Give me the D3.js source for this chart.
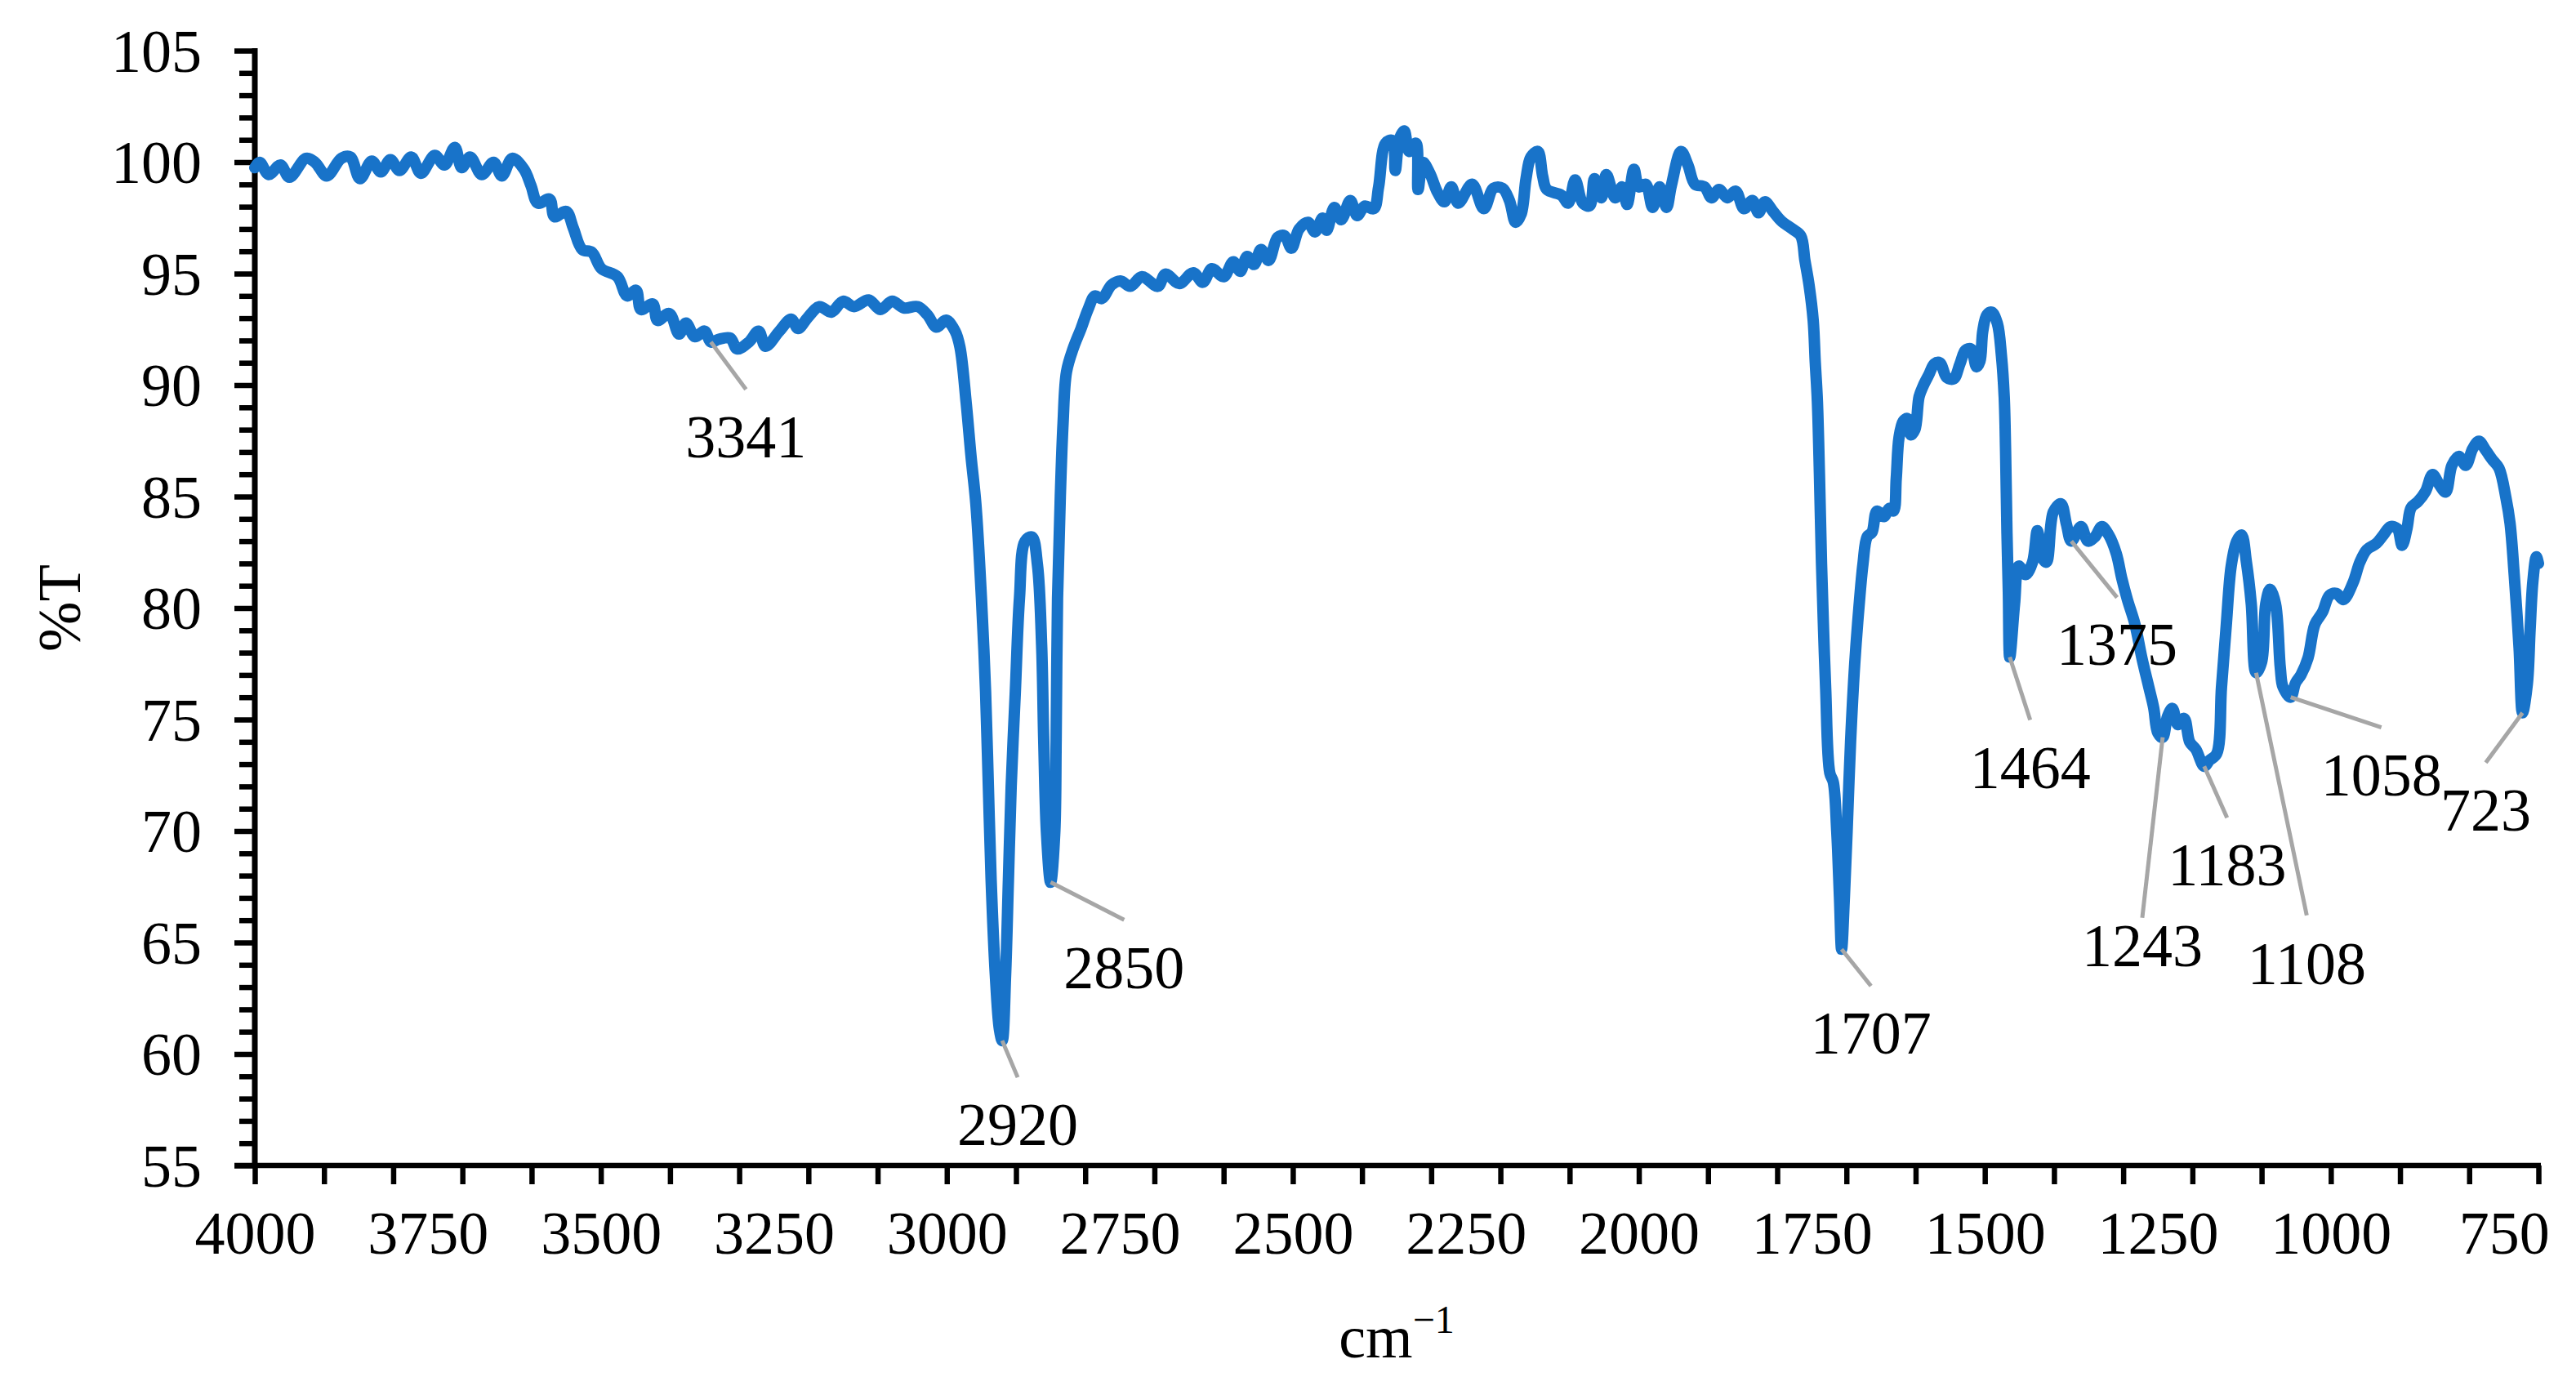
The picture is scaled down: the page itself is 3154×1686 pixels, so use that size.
<!DOCTYPE html>
<html>
<head>
<meta charset="utf-8">
<script src="https://cdn.jsdelivr.net/npm/d3@7"></script>
<style>
  html, body { margin: 0; padding: 0; background: #ffffff; }
  svg { display: block; }
</style>
</head>
<body>
<div id="chart"></div>
<script>
// ---------------- data ----------------
const wavenumber = [
  4000,3993,3980,3963,3950,3926,3913,3896,3875,3862,3848,3831,3818,3804,3791,3774,3760,3740,3726,3711,
  3701,3689,3672,3655,3643,3628,3611,3601,3591,3574,3567,3550,3540,3527,3513,3499,3476,3462,3449,3442,
  3425,3418,3401,3387,3377,3364,3350,3341,3330,3313,3303,3286,3272,3262,3242,3225,3215,3201,3184,3167,
  3150,3134,3113,3096,3079,3062,3042,3028,3015,3001,2988,2981,2972,2965,2958,2950,2944,2940,2936,2930,
  2924,2920,2915,2911,2907,2901,2895,2887,2877,2869,2863,2860,2856,2850,2844,2842,2840,2836,2832,2827,
  2817,2806,2796,2786,2776,2762,2749,2735,2718,2695,2684,2664,2644,2630,2617,2600,2586,2576,2566,2556,
  2546,2535,2522,2512,2502,2491,2478,2468,2457,2451,2440,2430,2417,2407,2396,2383,2376,2366,2356,2352,
  2346,2339,2332,2322,2319,2312,2302,2291,2281,2271,2261,2241,2224,2210,2197,2187,2178,2170,2163,2156,
  2146,2139,2133,2112,2102,2092,2081,2071,2064,2054,2047,2034,2024,2017,2007,2000,1990,1980,1970,1960,
  1953,1939,1929,1919,1905,1895,1884,1872,1860,1848,1836,1827,1818,1806,1794,1778,1766,1760,1754,1748,
  1745,1742,1739,1736,1733,1730,1724,1719,1714,1710,1707,1703,1699,1694,1688,1682,1676,1670,1663,1656,
  1646,1638,1632,1628,1624,1618,1612,1607,1601,1595,1589,1581,1573,1565,1555,1545,1536,1528,1520,1512,
  1507,1503,1497,1490,1482,1476,1472,1470,1468,1466,1464,1457,1451,1441,1431,1424,1417,1411,1401,1390,
  1382,1375,1361,1351,1341,1331,1321,1310,1302,1294,1283,1273,1263,1256,1250,1243,1236,1229,1221,1212,
  1204,1195,1183,1175,1165,1158,1151,1144,1136,1129,1122,1115,1108,1100,1094,1088,1080,1073,1069,1058,
  1051,1043,1033,1023,1012,1002,992,982,968,958,948,934,924,914,904,897,890,884,874,863,
  853,843,834,825,815,805,795,786,776,767,757,747,741,735,728,723,716,712,708,703,700
];
const transmittance = [
  99.75,99.99,99.44,99.87,99.32,100.17,99.99,99.38,100.17,100.23,99.26,100.05,99.56,100.11,99.62,100.23,99.5,100.3,99.87,100.66,
  99.75,100.23,99.44,99.99,99.38,100.17,99.68,98.95,98.16,98.34,97.55,97.79,97.06,96.08,95.96,95.22,94.86,94.0,94.25,93.39,
  93.64,92.9,93.21,92.29,92.78,92.17,92.42,91.93,92.05,92.11,91.62,91.93,92.42,91.74,92.42,92.96,92.54,93.03,93.52,93.27,
  93.76,93.52,93.82,93.39,93.76,93.46,93.52,93.15,92.6,92.91,92.42,91.7,89.2,86.8,84.66,80.45,76.25,72.04,67.83,63.6,
  61.1,60.6,63.6,67.8,72.0,76.25,80.45,83.0,83.19,81.93,78.35,74.14,69.93,67.7,69.93,74.14,80.45,85.0,88.3,90.6,
  91.68,92.54,93.39,94.0,93.88,94.49,94.67,94.43,94.86,94.43,94.98,94.55,95.04,94.61,95.22,94.86,95.53,95.1,95.77,95.41,
  96.08,95.59,96.63,96.7,96.14,97.0,97.3,96.87,97.49,96.94,97.97,97.42,98.28,97.6,98.03,97.91,98.89,100.85,100.97,99.62,
  101.03,101.4,100.48,100.85,98.77,99.99,99.5,98.65,98.22,98.89,98.16,99.01,97.91,98.83,98.83,98.28,97.3,97.67,99.26,100.23,
  100.48,99.38,98.77,98.52,98.16,99.2,98.16,98.04,99.26,98.4,99.44,98.4,98.89,98.1,99.68,98.89,99.01,97.97,98.89,97.97,
  98.95,100.48,99.87,99.01,98.89,98.4,98.77,98.4,98.7,97.91,98.28,97.73,98.22,97.79,97.36,97.0,96.69,95.59,94.49,92.9,
  91.0,89.3,86.0,82.0,79.0,76.4,72.6,72.2,70.0,67.0,64.7,67.0,70.0,74.0,77.5,80.0,82.0,83.2,83.4,84.35,
  84.1,84.47,84.35,85.82,87.65,88.38,88.5,87.77,88.0,89.48,89.97,90.46,90.95,91.0,90.34,90.28,90.95,91.56,91.62,90.82,
  91.07,92.41,93.15,93.27,92.78,91.32,89.48,87.04,83.37,80.7,77.8,80.2,81.88,81.5,82.06,83.47,82.25,82.06,84.31,84.68,
  83.75,83.0,83.65,83.0,83.19,83.65,83.28,82.44,81.32,80.38,79.27,77.76,76.45,75.53,74.4,74.2,75.14,75.5,74.77,75.05,
  74.0,73.66,72.9,73.18,73.46,76.45,79.27,81.88,83.0,83.28,82.06,80.2,77.1,77.58,80.2,80.84,80.2,77.32,76.45,76.0,
  76.64,77.01,77.76,79.27,79.82,80.57,80.66,80.38,81.13,82.06,82.62,82.9,83.28,83.65,83.56,82.81,83.56,84.5,84.78,85.24,
  85.99,85.52,85.2,86.4,86.8,86.4,87.15,87.48,87.07,86.67,86.27,84.95,83.8,81.5,78.24,75.3,76.6,79.05,81.2,82.3,82.0
];

// annotated peaks
const peakLabels = ["3341","2920","2850","1707","1464","1375","1243","1183","1108","1058","723"];
const peakWavenumber = [3341,2920,2850,1707,1464,1375,1243,1183,1108,1058,723];
const peakT = [91.93,60.6,67.7,64.7,77.8,83.0,74.2,72.9,77.1,76.0,75.3];

// axis ticks
const xMinorTicks = d3.range(4000, 699, -100);
const xLabelTicks = [4000,3750,3500,3250,3000,2750,2500,2250,2000,1750,1500,1250,1000,750];
const yMinorTicks = d3.range(55, 106, 1);
const yLabelTicks = [55,60,65,70,75,80,85,90,95,100,105];

// ---------------- layout ----------------
const W = 3154, H = 1686;
const mLeft = 312, mRight = 3108, mTop = 62, mBottom = 1427;
const FONT = "'Liberation Serif','Times New Roman',Times,serif";
const FS = 74;
// leader end offset (dx, dy) and label top offset (dyTop) from the peak point, px
const labelLayout = [
  [43,58,91],[19,45,78],[90,46,80],[36,45,78],[25,77,110],[56,69,101],
  [-25,221,230],[28,63,96],[62,297,331],[111,37,70],[-45,61,94]
];

const svg = d3.select("#chart").append("svg")
  .attr("width", W).attr("height", H)
  .style("font-family", FONT);

svg.append("rect").attr("width", W).attr("height", H).attr("fill", "#fff");

const x = d3.scaleLinear().domain([4000, 700]).range([mLeft, mRight]);
const y = d3.scaleLinear().domain([55, 105]).range([mBottom, mTop]);

// ---- y axis ----
const yMinor = svg.append("g").attr("transform", `translate(${mLeft},0)`)
  .call(d3.axisLeft(y).tickValues(yMinorTicks.filter(v => v % 5 !== 0)).tickSize(19).tickSizeOuter(0).tickFormat(""));
yMinor.select(".domain").remove();
const yMajor = svg.append("g").attr("transform", `translate(${mLeft},0)`)
  .call(d3.axisLeft(y).tickValues(yLabelTicks).tickSize(25).tickSizeOuter(0).tickPadding(40));
yMajor.select(".domain").remove();
svg.selectAll("g line").attr("stroke", "#000").attr("stroke-width", 6.5);
yMajor.selectAll("text")
  .attr("font-size", FS).attr("font-family", FONT).attr("fill", "#000")
  .attr("x", 247 - mLeft).attr("dy", "0.34em");

// ---- x axis ----
const xTicks = svg.append("g").attr("transform", `translate(0,${mBottom})`)
  .call(d3.axisBottom(x).tickValues(xMinorTicks).tickSize(23).tickSizeOuter(0).tickFormat(""));
xTicks.select(".domain").remove();
xTicks.selectAll("line").attr("stroke", "#000").attr("stroke-width", 6.5);
const xLab = svg.append("g").attr("transform", `translate(0,${mBottom})`)
  .call(d3.axisBottom(x).tickValues(xLabelTicks).tickSize(0).tickSizeOuter(0).tickFormat(d3.format("d")));
xLab.select(".domain").remove();
xLab.selectAll("text")
  .attr("font-size", FS).attr("font-family", FONT).attr("fill", "#000")
  .attr("y", 1535 - mBottom).attr("dy", null);

// axis lines
svg.append("line").attr("x1", mLeft).attr("x2", mLeft).attr("y1", mTop - 3).attr("y2", mBottom)
  .attr("stroke", "#000").attr("stroke-width", 7);
svg.append("line").attr("x1", mLeft - 25).attr("x2", mRight + 3).attr("y1", mBottom).attr("y2", mBottom)
  .attr("stroke", "#000").attr("stroke-width", 6.5);

// ---- spectrum ----
const pts = wavenumber.map((w, i) => [w, transmittance[i]]);
const line = d3.line().x(d => x(d[0])).y(d => y(d[1])).curve(d3.curveCatmullRom.alpha(0.5));
svg.append("path").datum(pts)
  .attr("d", line)
  .attr("fill", "none")
  .attr("stroke", "#1873C9")
  .attr("stroke-width", 14)
  .attr("stroke-linejoin", "round")
  .attr("stroke-linecap", "round");

// ---- peak annotations ----
const ann = svg.append("g");
peakLabels.forEach((lab, i) => {
  const px = x(peakWavenumber[i]), py = y(peakT[i]);
  const [dx, dy, dyTop] = labelLayout[i];
  ann.append("line")
    .attr("x1", px).attr("y1", py).attr("x2", px + dx).attr("y2", py + dy)
    .attr("stroke", "#A6A6A6").attr("stroke-width", 5);
  ann.append("text")
    .attr("x", px + dx).attr("y", py + dyTop + 50)
    .attr("text-anchor", "middle")
    .attr("font-size", FS).attr("fill", "#000")
    .text(lab);
});

// ---- axis titles ----
svg.append("text")
  .attr("transform", `translate(98,${(mTop + mBottom) / 2}) rotate(-90)`)
  .attr("text-anchor", "middle")
  .attr("font-size", FS).attr("fill", "#000")
  .text("%T");

const xt = svg.append("text")
  .attr("x", (mLeft + mRight) / 2).attr("y", 1662)
  .attr("text-anchor", "middle")
  .attr("font-size", FS).attr("fill", "#000");
xt.append("tspan").text("cm");
xt.append("tspan").attr("font-size", 48).attr("dy", -30).text("\u22121");
</script>
</body>
</html>
